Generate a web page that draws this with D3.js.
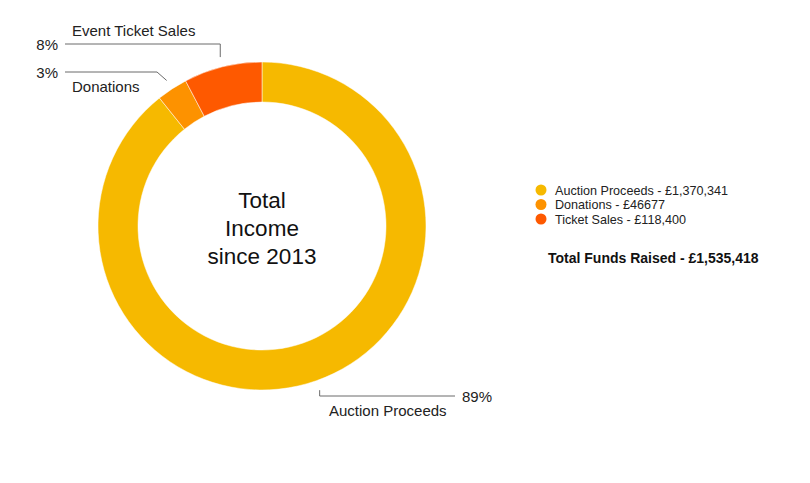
<!DOCTYPE html>
<html>
<head>
<meta charset="utf-8">
<script src="https://cdn.jsdelivr.net/npm/d3@7"></script>
<style>
  body { margin: 0; background: #fff; }
  svg { font-family: "Liberation Sans", Arial, Helvetica, sans-serif; }
</style>
</head>
<body>
<svg id="chart" width="810" height="483"></svg>
<script>
// chart data
var categories = ["Auction Proceeds", "Donations", "Ticket Sales"];
var labelNames = ["Auction Proceeds", "Donations", "Event Ticket Sales"];
var amounts = [1370341, 46677, 118400];
var amountText = ["£1,370,341", "£46677", "£118,400"];
var colors = ["#f6b900", "#fd9200", "#fe5900"];
var totalText = "£1,535,418";

var svg = d3.select("#chart");
var cx = 262, cy = 226, outerR = 164, innerR = 124;

var pie = d3.pie().sort(null).value(d => d)(amounts);
var arc = d3.arc().innerRadius(innerR).outerRadius(outerR);
var total = d3.sum(amounts);

var g = svg.append("g").attr("transform", `translate(${cx},${cy})`);

g.selectAll("path.slice")
  .data(pie)
  .enter()
  .append("path")
  .attr("class", "slice")
  .attr("d", arc)
  .attr("fill", (d, i) => colors[i])
  .attr("stroke", "#fff")
  .attr("stroke-width", 0.5);

// centre text
var centre = ["Total", "Income", "since 2013"];
g.selectAll("text.centre")
  .data(centre)
  .enter()
  .append("text")
  .attr("class", "centre")
  .attr("text-anchor", "middle")
  .attr("x", 0)
  .attr("y", (d, i) => -18 + i * 28)
  .attr("font-size", 22.5)
  .attr("fill", "#111")
  .text(d => d);

// leader lines: start at mid-angle just outside the ring
var labelArc = d3.arc().innerRadius(outerR + 10).outerRadius(outerR + 10);
// per-slice label layout (elbow, end, text positions, relative to centre)
var layout = [
  { elbow: p => [p[0], 170], end: [193, 170], pct: [200, 176, "start"], name: [67, 190, "start"] },
  { elbow: p => [-105, -154], end: [-197, -154], pct: [-204, -148, "end"], name: [-190, -134, "start"] },
  { elbow: p => [p[0], -182], end: [-197, -182], pct: [-204, -176, "end"], name: [-190, -190, "start"] }
];

pie.forEach((d, i) => {
  var p = labelArc.centroid(d);
  var L = layout[i];
  var e = L.elbow(p);
  g.append("polyline")
    .attr("points", [p, e, L.end].map(q => q.join(",")).join(" "))
    .attr("fill", "none")
    .attr("stroke", "#6b6b6b")
    .attr("stroke-width", 1);
  g.append("text")
    .attr("x", L.pct[0]).attr("y", L.pct[1])
    .attr("text-anchor", L.pct[2])
    .attr("font-size", 15)
    .attr("fill", "#222")
    .text(Math.round(d.value / total * 100) + "%");
  g.append("text")
    .attr("x", L.name[0]).attr("y", L.name[1])
    .attr("text-anchor", L.name[2])
    .attr("font-size", 15)
    .attr("fill", "#222")
    .text(labelNames[i]);
});

// legend
var legend = svg.append("g").attr("transform", "translate(541,190)");
var rows = legend.selectAll("g")
  .data(categories)
  .enter()
  .append("g")
  .attr("transform", (d, i) => `translate(0,${i * 14.5})`);
rows.append("circle")
  .attr("r", 5.5)
  .attr("fill", (d, i) => colors[i]);
rows.append("text")
  .attr("x", 14)
  .attr("y", 4.5)
  .attr("font-size", 12.6)
  .attr("fill", "#222")
  .text((d, i) => d + " - " + amountText[i]);

svg.append("text")
  .attr("x", 548)
  .attr("y", 263)
  .attr("font-size", 14)
  .attr("font-weight", "bold")
  .attr("fill", "#111")
  .text("Total Funds Raised - " + totalText);
</script>
</body>
</html>
